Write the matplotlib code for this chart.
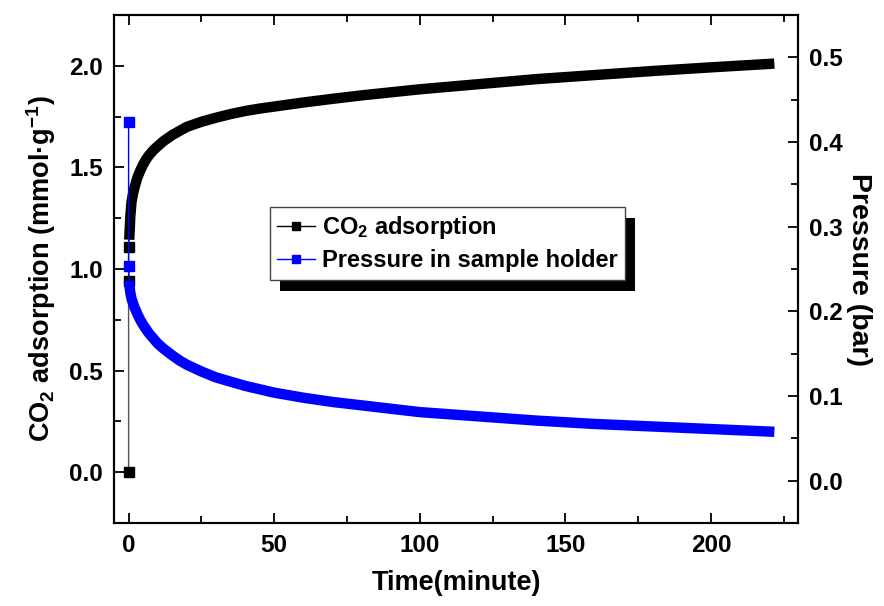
import matplotlib
matplotlib.use("Agg")
import matplotlib.pyplot as plt
from matplotlib.lines import Line2D
from matplotlib.patches import Rectangle
from matplotlib.ticker import MultipleLocator, FormatStrFormatter

plt.rcParams['font.family'] = ['Liberation Sans', 'DejaVu Sans']
plt.rcParams['font.weight'] = 'bold'
plt.rcParams['mathtext.fontset'] = 'custom'
plt.rcParams['mathtext.rm'] = 'Liberation Sans:bold'
plt.rcParams['mathtext.it'] = 'Liberation Sans:bold'
plt.rcParams['mathtext.bf'] = 'Liberation Sans:bold'
plt.rcParams['mathtext.default'] = 'rm'

# Initial points at t = 0
co2_init_t = [0, 0, 0]
co2_init_v = [0.0, 0.94, 1.11]
p_init_t = [0, 0]
p_init_v = [0.424, 0.254]

# Continuous curves
time_min = [0.3, 0.6, 1, 1.5, 2, 3, 4, 5, 6, 7, 8.5, 10, 12, 15, 17.5, 20, 25,
            30, 35, 40, 45, 50, 60, 70, 80, 90, 100, 120, 140, 160, 180, 200, 220]
co2_ads = [1.17, 1.26, 1.33, 1.37, 1.40, 1.45, 1.485, 1.515, 1.54, 1.56, 1.585,
           1.605, 1.63, 1.66, 1.68, 1.70, 1.725, 1.745, 1.763, 1.778, 1.79,
           1.80, 1.82, 1.838, 1.855, 1.87, 1.885, 1.91, 1.935, 1.955, 1.975,
           1.993, 2.01]
pressure = [0.230, 0.222, 0.215, 0.210, 0.205, 0.197, 0.190, 0.184, 0.179,
            0.174, 0.168, 0.162, 0.156, 0.148, 0.142, 0.137, 0.129, 0.122,
            0.117, 0.112, 0.108, 0.104, 0.098, 0.093, 0.089, 0.085, 0.081,
            0.076, 0.071, 0.067, 0.064, 0.061, 0.058]

fig = plt.figure(figsize=(8.84, 6.06), dpi=100)
ax = fig.add_axes([0.129, 0.137, 0.774, 0.838])
ax2 = ax.twinx()

lbl_fs = 19.5
tick_fs = 17.5
leg_fs = 17

# CO2 adsorption (left axis)
ax.plot(co2_init_t + time_min[:1], co2_init_v + co2_ads[:1], color='#555555', lw=1, zorder=2)
ax.plot(co2_init_t, co2_init_v, ls='none', marker='s', ms=7, color='black', zorder=3)
ax.plot(time_min, co2_ads, color='black', lw=7.5, solid_capstyle='projecting',
        solid_joinstyle='round', zorder=3)

# Pressure (right axis)
ax2.plot(p_init_t + time_min[:1], p_init_v + pressure[:1], color='blue', lw=1, zorder=2)
ax2.plot(p_init_t, p_init_v, ls='none', marker='s', ms=7, color='blue', zorder=3)
ax2.plot(time_min, pressure, color='blue', lw=7.5, solid_capstyle='projecting',
         solid_joinstyle='round', zorder=3)

ax.set_xlim(-5, 230)
ax.set_ylim(-0.25, 2.25)
ax2.set_ylim(-0.05, 0.55)

ax.xaxis.set_major_locator(MultipleLocator(50))
ax.xaxis.set_minor_locator(MultipleLocator(25))
ax.yaxis.set_major_locator(MultipleLocator(0.5))
ax.yaxis.set_minor_locator(MultipleLocator(0.25))
ax2.yaxis.set_major_locator(MultipleLocator(0.1))
ax2.yaxis.set_minor_locator(MultipleLocator(0.05))

ax.tick_params(axis='x', which='both', direction='in', top=True, bottom=True,
               labelsize=tick_fs, width=1.3, pad=8)
ax.tick_params(axis='y', which='both', direction='in', left=True, right=False,
               labelsize=tick_fs, width=1.3, pad=8)
ax.tick_params(which='major', length=7)
ax.tick_params(which='minor', length=5)
ax2.tick_params(axis='y', which='both', direction='in', right=True,
                labelsize=tick_fs, width=1.3, pad=8)
ax2.tick_params(which='major', length=7)
ax2.tick_params(which='minor', length=5)
ax.yaxis.set_major_formatter(FormatStrFormatter('%.1f'))
ax2.yaxis.set_major_formatter(FormatStrFormatter('%.1f'))

for a in (ax, ax2):
    for s in a.spines.values():
        s.set_linewidth(1.5)
    for t in a.get_xticklabels() + a.get_yticklabels():
        t.set_fontweight('bold')

ax.set_xlabel('Time(minute)', fontsize=lbl_fs, fontweight='bold', labelpad=9)
ax.set_ylabel('CO$_2$ adsorption (mmol·g$^{-1}$)', fontsize=lbl_fs, fontweight='bold', labelpad=8)
ax2.set_ylabel('Pressure (bar)', fontsize=20.5, fontweight='bold', rotation=270, labelpad=21)

handles = [Line2D([], [], color='black', marker='s', ms=6, lw=1),
           Line2D([], [], color='blue', marker='s', ms=6, lw=1)]
labels = ['CO$_2$ adsorption', 'Pressure in sample holder']
leg = ax2.legend(handles, labels, loc='upper left', bbox_to_anchor=(0.228, 0.622),
                 borderaxespad=0, fancybox=False, frameon=True, edgecolor='#444444',
                 framealpha=1, prop={'size': leg_fs, 'weight': 'bold'},
                 handlelength=1.6, handletextpad=0.3, borderpad=0.3,
                 labelspacing=0.35)
leg.get_frame().set_linewidth(1.0)
leg.set_zorder(10)

fig.canvas.draw()
bb = leg.get_window_extent().transformed(fig.transFigure.inverted())
off_x = 10 / fig.bbox.width
off_y = 11 / fig.bbox.height
shadow = Rectangle((bb.x0 + off_x, bb.y0 - off_y), bb.width, bb.height,
                   transform=fig.transFigure, facecolor='black', edgecolor='none',
                   zorder=9)
ax2.add_artist(shadow)

fig.savefig('out.png', dpi=100)
